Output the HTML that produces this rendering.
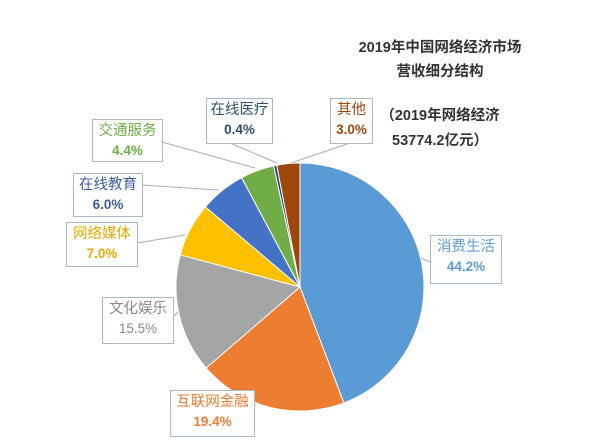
<!DOCTYPE html><html><head><meta charset="utf-8"><style>
body{margin:0;background:#fff;width:600px;height:443px;overflow:hidden;font-family:"Liberation Sans","Noto Sans CJK SC",sans-serif}
.b{position:absolute;border:1px solid #a9b8c4;background:#fff;text-align:center;font-size:14.5px;line-height:20px;padding-top:1px;white-space:nowrap}
.b span{font-weight:bold;display:block;font-size:13.5px}
.t{position:absolute;font-size:14.5px;color:#333;font-weight:bold;text-align:center}
</style></head><body>
<svg width="600" height="443" style="position:absolute;left:0;top:0">
<g stroke="#9fb0bc" stroke-width="1" fill="none">
<line x1="430" y1="262" x2="421" y2="258"/>
<line x1="230" y1="143" x2="277" y2="163"/>
<line x1="350" y1="143" x2="291" y2="163"/>
<line x1="162" y1="142" x2="255" y2="168"/>
<line x1="142" y1="185" x2="218" y2="190"/>
<line x1="137" y1="243" x2="185" y2="235"/>
<line x1="172" y1="318" x2="178" y2="312"/>
</g>
<g id="pie"></g>
</svg>
<script>
var d=[[44.2,"#5b9bd5"],[19.4,"#ed7d31"],[15.5,"#a5a5a5"],[7.0,"#ffc000"],[6.0,"#4472c4"],[4.4,"#70ad47"],[0.4,"#264478"],[3.0,"#9e480e"]];
var cx=300,cy=287,r=124,a=0,s="",tot=99.9;
d.forEach(function(e){var a2=a+e[0]/tot*2*Math.PI;
var x1=cx+r*Math.sin(a),y1=cy-r*Math.cos(a),x2=cx+r*Math.sin(a2),y2=cy-r*Math.cos(a2);
s+='<path d="M'+cx+','+cy+'L'+x1+','+y1+'A'+r+','+r+' 0 '+(a2-a>Math.PI?1:0)+',1 '+x2+','+y2+'Z" fill="'+e[1]+'" stroke="#fff" stroke-width="1"/>';a=a2;});
document.getElementById("pie").innerHTML=s;
</script>
<div class="t" style="left:345px;top:36px;width:190px">2019年中国网络经济市场</div>
<div class="t" style="left:345px;top:60px;width:190px">营收细分结构</div>
<div class="t" style="left:355px;top:104px;width:170px">（2019年网络经济</div>
<div class="t" style="left:355px;top:129px;width:170px">53774.2亿元）</div>
<div class="b" style="left:206px;top:98px;width:65px;height:43px;color:#2f4e6e">在线医疗<span>0.4%</span></div>
<div class="b" style="left:330px;top:98px;width:41px;height:43px;color:#9e480e">其他<span>3.0%</span></div>
<div class="b" style="left:92px;top:119px;width:69px;height:40px;color:#70ad47">交通服务<span>4.4%</span></div>
<div class="b" style="left:73px;top:173px;width:68px;height:41px;color:#3a5d9c">在线教育<span>6.0%</span></div>
<div class="b" style="left:66px;top:222px;width:70px;height:42px;color:#e6ac00">网络媒体<span>7.0%</span></div>
<div class="b" style="left:102px;top:297px;width:70px;height:44px;color:#888">文化娱乐<span style="font-weight:normal">15.5%</span></div>
<div class="b" style="left:430px;top:235px;width:70px;height:46px;color:#5b9bd5">消费生活<span>44.2%</span></div>
<div class="b" style="left:170px;top:390px;width:83px;height:44px;color:#ed7d31">互联网金融<span>19.4%</span></div>
</body></html>
